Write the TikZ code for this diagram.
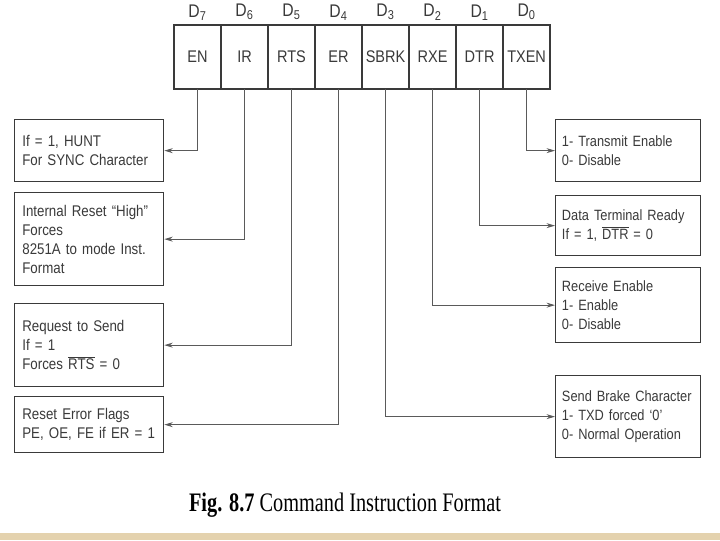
\documentclass[tikz,border=0pt]{standalone}
\usepackage{fontspec}
\usepackage{xcolor}
\usepackage{tikz}
\usetikzlibrary{positioning,arrows.meta}
\newfontfamily\diagfont[FakeStretch=0.86,WordSpace=0.7]{Liberation Sans}
\newfontfamily\captfont[FakeStretch=0.76]{Liberation Serif}
\definecolor{ink}{HTML}{3A3A3A}
\definecolor{wire}{HTML}{5A5A5A}
\definecolor{sand}{HTML}{E4D2AE}

\begin{document}
\begin{tikzpicture}[x=0.025cm, y=-0.025cm,
      every node/.style={font=\diagfont\fontsize{11}{13.5}\selectfont, text=ink},
      cell/.style={draw=ink, line width=0.9pt, minimum width=1.175cm, minimum height=1.6cm,
        inner sep=0pt, outer sep=0pt, font=\diagfont\fontsize{12}{14}\selectfont},
      bit/.style={above=0pt of #1, font=\diagfont\fontsize{13}{15}\selectfont},
      lbox/.style={draw=ink, line width=0.9pt, anchor=north west, align=left,
        inner xsep=5.5pt, text width=3.725cm-11pt},
      rbox/.style={draw=ink, line width=0.9pt, anchor=north west, align=left,
        inner xsep=4.5pt, text width=3.625cm-9pt, font=\diagfont\fontsize{10.6}{13.5}\selectfont},
      arr/.style={draw=wire, line width=0.6pt, -{Stealth[length=6pt,width=3.5pt]}}]
    \fill[white] (0,0) rectangle (720,540);
    \fill[sand] (0,533) rectangle (720,540);
    \useasboundingbox (0,0) rectangle (720,540);

    % command register
    \node[cell, anchor=north west] (en) at (174,25) {EN};
    \node[cell, right=0pt of en] (ir) {IR};
    \node[cell, right=0pt of ir] (rts) {RTS};
    \node[cell, right=0pt of rts] (er) {ER};
    \node[cell, right=0pt of er] (sbrk) {SBRK};
    \node[cell, right=0pt of sbrk] (rxe) {RXE};
    \node[cell, right=0pt of rxe] (dtr) {DTR};
    \node[cell, right=0pt of dtr] (txen) {TXEN};

    \node[bit=en] (d7) {D\textsubscript{7}};
    \node[bit=ir] (d6) {D\textsubscript{6}};
    \node[bit=rts] (d5) {D\textsubscript{5}};
    \node[bit=er] (d4) {D\textsubscript{4}};
    \node[bit=sbrk] (d3) {D\textsubscript{3}};
    \node[bit=rxe] (d2) {D\textsubscript{2}};
    \node[bit=dtr] (d1) {D\textsubscript{1}};
    \node[bit=txen] (d0) {D\textsubscript{0}};

    % left side
    \node[lbox, minimum height=1.55cm] (hunt) at (14,119) {If = 1, HUNT\\For SYNC Character};
    \node[lbox, minimum height=2.325cm] (reset) at (14,192) {Internal Reset “High”\\Forces\\8251A to mode Inst.\\Format};
    \node[lbox, minimum height=2.075cm] (req) at (14,303) {Request to Send\\If = 1\\Forces $\overline{\mbox{RTS}}$ = 0};
    \node[lbox, minimum height=1.4cm] (flags) at (14,396) {Reset Error Flags\\PE, OE, FE if ER = 1};

    % right side
    \node[rbox, minimum height=1.55cm] (tx) at (555,119) {1- Transmit Enable\\0- Disable};
    \node[rbox, minimum height=1.5cm] (ready) at (555,195) {Data Terminal Ready\\If = 1, $\overline{\mbox{DTR}}$ = 0};
    \node[rbox, minimum height=1.875cm] (rx) at (555,267) {Receive Enable\\1- Enable\\0- Disable};
    \node[rbox, minimum height=2.05cm] (brk) at (555,375) {Send Brake Character\\1- TXD forced ‘0’\\0- Normal Operation};

    \draw[arr] (en.south) |- (hunt.east);
    \draw[arr] (ir.south) |- (reset.east);
    \draw[arr] (rts.south) |- (req.east);
    \draw[arr] (er.south) |- (flags.east);
    \draw[arr] (sbrk.south) |- (brk.west);
    \draw[arr] (rxe.south) |- (rx.west);
    \draw[arr] (dtr.south) |- (ready.west);
    \draw[arr] (txen.south) |- (tx.west);

    \node[font=\captfont\fontsize{19}{22}\selectfont, text=black] (cap) at (345,505)
      {\textbf{Fig. 8.7} Command Instruction Format};
  \end{tikzpicture}
\end{document}
